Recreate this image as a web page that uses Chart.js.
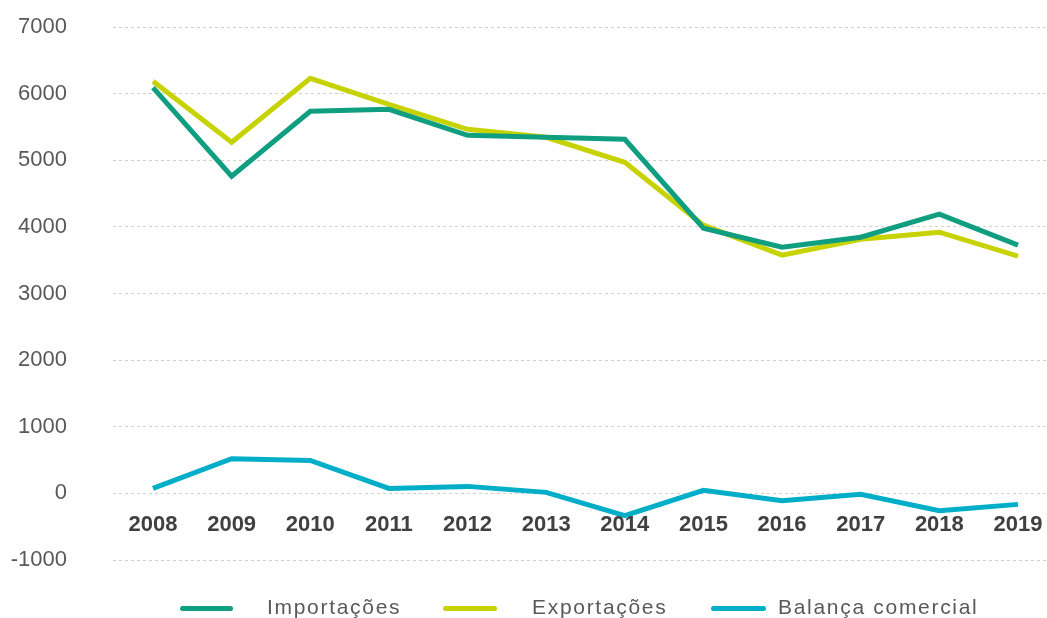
<!DOCTYPE html>
<html>
<head>
<meta charset="utf-8">
<script src="https://cdn.jsdelivr.net/npm/chart.js@4/dist/chart.umd.min.js"></script>
<style>
  html, body { margin: 0; padding: 0; background: #ffffff; overflow: hidden; }
  #wrap { position: relative; width: 1047px; height: 618px; }
  #c { position: absolute; left: 0; top: 0; }
  .lg-line { position: absolute; height: 5px; border-radius: 3px; top: 606px; }
  .lg-text { position: absolute; top: 594px; font-family: "Liberation Sans", Arial, sans-serif; font-size: 21px; letter-spacing: 1.7px; color: #595959; line-height: 26px; white-space: nowrap; }
</style>
</head>
<body>
<div id="wrap">
  <canvas id="c" width="1047" height="618"></canvas>
  <div class="lg-line" style="left:180px;width:53px;background:#0f9f80"></div>
  <div class="lg-text" style="left:267px">Importações</div>
  <div class="lg-line" style="left:443px;width:54px;background:#c6d300"></div>
  <div class="lg-text" style="left:532px">Exportações</div>
  <div class="lg-line" style="left:711px;width:55px;background:#00aec7"></div>
  <div class="lg-text" style="left:778px">Balança comercial</div>
</div>
<script>
const years = ['2008','2009','2010','2011','2012','2013','2014','2015','2016','2017','2018','2019'];
const importacoes = [6090, 4760, 5735, 5765, 5375, 5345, 5315, 3980, 3695, 3845, 4190, 3725];
const exportacoes = [6185, 5270, 6230, 5840, 5465, 5345, 4970, 4025, 3575, 3815, 3920, 3560];
const balanca = [75, 520, 495, 75, 105, 15, -335, 45, -110, -15, -260, -165];
const yTicks = [-1000, 0, 1000, 2000, 3000, 4000, 5000, 6000, 7000];
const seriesNames = ['Importações', 'Exportações', 'Balança comercial'];
const seriesColors = ['#0f9f80', '#c6d300', '#00aec7'];

const toPts = arr => arr.map((v, i) => ({ x: i, y: v }));
const allSeries = [importacoes, exportacoes, balanca];

// category labels drawn just below the zero line, as in the original
const yearLabels = {
  id: 'yearLabels',
  afterDatasetsDraw(chart) {
    const { ctx } = chart;
    const xs = chart.scales.x, ys = chart.scales.y;
    const y0 = ys.getPixelForValue(0) + 32;
    ctx.save();
    ctx.font = 'bold 22px "Liberation Sans", Arial, sans-serif';
    ctx.fillStyle = '#404040';
    ctx.textAlign = 'center';
    ctx.textBaseline = 'middle';
    years.forEach((yr, i) => ctx.fillText(yr, xs.getPixelForValue(i), y0));
    ctx.restore();
  }
};

new Chart(document.getElementById('c'), {
  type: 'line',
  data: {
    datasets: allSeries.map((s, k) => ({
      label: seriesNames[k],
      data: toPts(s),
      borderColor: seriesColors[k],
      backgroundColor: seriesColors[k],
      borderWidth: 5,
      pointRadius: 0,
      tension: 0,
      fill: false
    }))
  },
  options: {
    responsive: false,
    animation: false,
    layout: { padding: { top: 27, bottom: 58, left: 0, right: 0 } },
    plugins: { legend: { display: false }, tooltip: { enabled: false } },
    scales: {
      x: {
        type: 'linear',
        display: false,
        min: -0.5087,
        max: 11.369
      },
      y: {
        min: yTicks[0],
        max: yTicks[yTicks.length - 1],
        afterBuildTicks: s => { s.ticks = yTicks.map(v => ({ value: v })); },
        afterFit: s => { s.width = 113; },
        grid: { color: '#cfcfcf', lineWidth: 1, drawTicks: true, tickLength: 46, tickColor: 'rgba(0,0,0,0)' },
        border: { display: false, dash: [3, 3] },
        ticks: {
          padding: 0,
          color: '#595959',
          font: { family: '"Liberation Sans", Arial, sans-serif', size: 22 },
          callback: v => String(v)
        }
      }
    }
  },
  plugins: [yearLabels]
});
</script>
</body>
</html>
